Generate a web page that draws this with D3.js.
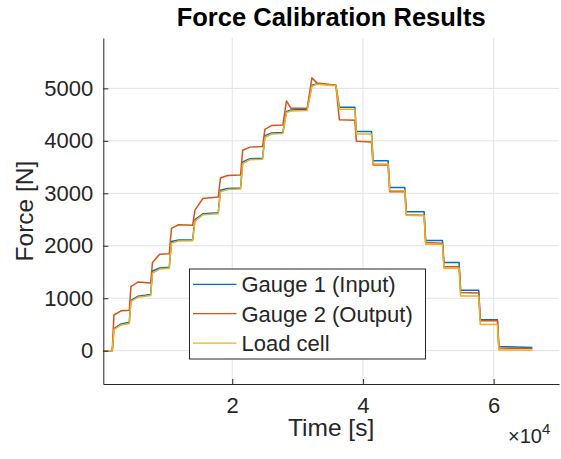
<!DOCTYPE html>
<html>
<head>
<meta charset="utf-8">
<script src="https://cdn.jsdelivr.net/npm/d3@7"></script>
<style>
  body { margin: 0; background: #fff; }
  text { font-family: "Liberation Sans", Arial, sans-serif; fill: #262626; }
</style>
</head>
<body>
<div id="chart"></div>
<script>
// --- DATA ---
const timeS = [300, 1650, 1900, 3000, 4250, 4500, 5600, 7520, 7800, 8900,
  10370, 10700, 11800, 13940, 14300, 15500, 17860, 18200, 19300, 21280,
  21600, 22700, 24650, 25000, 26000, 27750, 28300, 29000, 31470, 32190,
  33000, 35860, 36400, 38760, 39000, 41310, 41550, 43850, 44100, 46400,
  46650, 49360, 49600, 52170, 52400, 54710, 54950, 57720, 57950, 60580,
  60800, 65930];
const gauge1 = [0, 0, 420, 510, 540, 960, 1040, 1070, 1520, 1575,
  1590, 2080, 2110, 2110, 2500, 2610, 2630, 3060, 3090, 3100,
  3600, 3660, 3670, 4100, 4150, 4160, 4560, 4590, 4600, 5060,
  5090, 5060, 4640, 4640, 4180, 4180, 3620, 3620, 3110, 3110,
  2650, 2650, 2100, 2100, 1680, 1680, 1150, 1150, 590, 590,
  80, 60];
const gauge2 = [0, 0, 680, 760, 770, 1220, 1310, 1290, 1680, 1840,
  1850, 2330, 2400, 2390, 2680, 2900, 2930, 3290, 3340, 3350,
  3820, 3880, 3890, 4220, 4290, 4300, 4760, 4620, 4620, 5200,
  5100, 5060, 4400, 4390, 3990, 3980, 3540, 3540, 3030, 3030,
  2590, 2580, 2060, 2050, 1600, 1600, 1110, 1100, 570, 570,
  50, 40];
const loadCell = [0, 0, 400, 490, 520, 940, 1020, 1050, 1480, 1555,
  1570, 2050, 2090, 2095, 2470, 2590, 2610, 3030, 3070, 3080,
  3560, 3640, 3650, 4060, 4130, 4140, 4540, 4570, 4580, 5040,
  5080, 5050, 4600, 4600, 4130, 4130, 3560, 3560, 3050, 3050,
  2580, 2570, 2030, 2030, 1570, 1570, 1040, 1040, 500, 500,
  15, 10];
const seriesNames = ["Gauge 1 (Input)", "Gauge 2 (Output)", "Load cell"];
const seriesColors = ["#0072BD", "#D95319", "#EDB120"];
const yTicks = [0, 1000, 2000, 3000, 4000, 5000];
const xTicks = [20000, 40000, 60000];
const xTickLabels = ["2", "4", "6"];

// --- SETUP ---
const width = 561, height = 459;
const margin = { left: 103.3, right: 2, top: 38, bottom: 75 };

const svg = d3.select("#chart").append("svg")
  .attr("width", width).attr("height", height);

const x = d3.scaleLinear().domain([275, 70000]).range([margin.left, width - margin.right]);
const y = d3.scaleLinear().domain([-635, 5960]).range([height - margin.bottom, margin.top]);

// grid
const grid = svg.append("g");
grid.selectAll("line.gx").data(xTicks).join("line")
  .attr("x1", d => x(d)).attr("x2", d => x(d))
  .attr("y1", y.range()[0]).attr("y2", y.range()[1])
  .attr("stroke", "#e3e3e3").attr("stroke-width", 1);
grid.selectAll("line.gy").data(yTicks).join("line")
  .attr("y1", d => y(d)).attr("y2", d => y(d))
  .attr("x1", x.range()[0]).attr("x2", x.range()[1])
  .attr("stroke", "#e3e3e3").attr("stroke-width", 1);

// lines
const series = [gauge1, gauge2, loadCell];
const line = d3.line().x(d => x(d[0])).y(d => y(d[1]));
series.forEach((vals, i) => {
  svg.append("path")
    .datum(timeS.map((t, j) => [t, vals[j]]))
    .attr("fill", "none")
    .attr("stroke", seriesColors[i])
    .attr("stroke-width", 1.5)
    .attr("stroke-linejoin", "round")
    .attr("d", line);
});

// axes (MATLAB style: ticks inward)
const xAxis = svg.append("g")
  .attr("transform", `translate(0,${y.range()[0]})`)
  .call(d3.axisBottom(x).tickValues(xTicks).tickFormat((d, i) => xTickLabels[i])
    .tickSizeInner(-5).tickSizeOuter(0).tickPadding(13));
const yAxis = svg.append("g")
  .attr("transform", `translate(${x.range()[0]},0)`)
  .call(d3.axisLeft(y).tickValues(yTicks).tickFormat(d3.format("d"))
    .tickSizeInner(-5).tickSizeOuter(0).tickPadding(10));
[xAxis, yAxis].forEach(a => {
  a.select(".domain").attr("stroke", "#262626").attr("stroke-width", 1);
  a.selectAll(".tick line").attr("stroke", "#262626");
  a.selectAll(".tick text").attr("fill", "#262626").style("font-size", "22px")
    .style("font-family", "'Liberation Sans', Arial, sans-serif");
});

// exponent
const expo = svg.append("text").attr("x", 508).attr("y", 443).style("font-size", "20px");
expo.append("tspan").text("\u00d710");
expo.append("tspan").attr("dy", -9).style("font-size", "15px").text("4");

// labels
svg.append("text")
  .attr("x", (x.range()[0] + x.range()[1]) / 2).attr("y", 26)
  .attr("text-anchor", "middle").style("font-size", "25.5px").style("font-weight", "bold")
  .style("fill", "#000")
  .text("Force Calibration Results");
svg.append("text")
  .attr("x", (x.range()[0] + x.range()[1]) / 2).attr("y", 436)
  .attr("text-anchor", "middle").style("font-size", "24.5px")
  .text("Time [s]");
svg.append("text")
  .attr("transform", `translate(33,${(y.range()[0] + y.range()[1]) / 2}) rotate(-90)`)
  .attr("text-anchor", "middle").style("font-size", "24.5px")
  .text("Force [N]");

// legend
const legend = svg.append("g").attr("transform", "translate(189.5,269)");
legend.append("rect").attr("width", 236).attr("height", 90)
  .attr("fill", "#fff").attr("stroke", "#262626").attr("stroke-width", 1);
seriesNames.forEach((name, i) => {
  const ly = 15.3 + i * 29.4;
  legend.append("line").attr("x1", 3.5).attr("x2", 47).attr("y1", ly).attr("y2", ly)
    .attr("stroke", seriesColors[i]).attr("stroke-width", 1.3);
  legend.append("text").attr("x", 52).attr("y", ly).attr("dy", "0.36em")
    .style("font-size", "22px").text(name);
});
</script>
</body>
</html>
